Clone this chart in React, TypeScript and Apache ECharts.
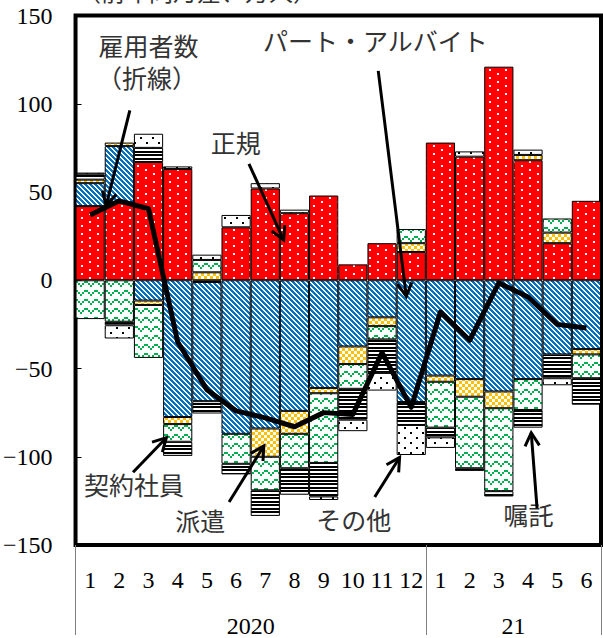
import { useEffect, useRef } from "react";
import * as echarts from "echarts";

// Month labels (2020 Jan–Dec, 2021 Jan–Jun) and the year row beneath them
const months = ["1", "2", "3", "4", "5", "6", "7", "8", "9", "10", "11", "12", "1", "2", "3", "4", "5", "6"];
const yearLabels = ["2020", "21"];
const yearCenters = [6, 15];
const yearDividers = [0, 12, 18];

// Year-on-year change by employment type (10 thousand persons)
const regular = [42, 44, 67, 63, -1, 30, 52, 38, 48, 9, 21, 16, 78, 70, 121, 68, 21, 45];
const partTime = [13, 32, -11.5, -77.5, -67.5, -87, -84, -74, -61, -37.5, -21, -69, -54, -56, -63, -56, -42, -39];
const dispatched = [2, 2, -2.5, -4, 4.5, 0, -16, -13, -3, -10, -5, 5, -3.5, -10, -9.5, 3, 6, -3];
const contract = [-22, -23.5, -30, -10, 7, -17, -19, -19.5, -39.5, -14, -7.5, 8, -26, -40.5, -47, -17.5, 8, -13.5];
const shokutaku = [3, -2, 8, -8, -7, -6, -14.5, -15, -19, -17.5, -19, -13, -5.5, -1.5, -3, -10, -13.5, -15];
const others = [1, -7.5, 8, 1.5, 3, 7, 3, 2, -2, -6.5, -10, -17, -6, 3, 0, 3, -4, 0];
// Total employees (line)
const employees = [37, 45, 40.5, -35, -62, -74, -78, -83, -75, -76, -41, -72, -18, -34, -1.5, -9.5, -25, -27];

// Y axis
const yMin = -150;
const yMax = 150;
const yStep = 50;

// Call-out labels, placed in axis units (x: 0..18 across the months, y: value)
type Callout = {
  lines: { text: string; x: number; y: number }[];
  from: [number, number];
  to: [number, number];
};
const callouts: Callout[] = [
  {
    lines: [
      { text: "雇用者数", x: 2.5, y: 133.5 },
      { text: "（折線）", x: 2.45, y: 115 },
    ],
    from: [1.86, 96.3],
    to: [1.05, 42.4],
  },
  { lines: [{ text: "正規", x: 5.49, y: 78.6 }], from: [5.94, 66], to: [7.13, 22.8] },
  { lines: [{ text: "パート・アルバイト", x: 10.27, y: 136.4 }], from: [10.37, 118.6], to: [11.33, -9.1] },
  { lines: [{ text: "契約社員", x: 2.0, y: -115.3 }], from: [1.97, -108.8], to: [3.11, -89.2] },
  { lines: [{ text: "派遣", x: 4.27, y: -135.8 }], from: [5.26, -125.6], to: [6.45, -93.9] },
  { lines: [{ text: "その他", x: 9.53, y: -135.5 }], from: [10.25, -122.8], to: [11.1, -100.4] },
  { lines: [{ text: "嘱託", x: 15.52, y: -132.6 }], from: [15.81, -129.3], to: [15.61, -86.4] },
];

const SERIF = "Liberation Serif";
const CJK = "'Noto Sans CJK JP', sans-serif";

type Tile = { image: HTMLCanvasElement; repeat: "repeat"; imageWidth: number; imageHeight: number };

function makeTile(w: number, h: number, draw: (ctx: CanvasRenderingContext2D) => void): Tile {
  const c = document.createElement("canvas");
  c.width = w;
  c.height = h;
  const ctx = c.getContext("2d")!;
  draw(ctx);
  return { image: c, repeat: "repeat", imageWidth: w, imageHeight: h };
}

function buildPatterns() {
  // red with staggered white dots
  const red = makeTile(16, 8, (ctx) => {
    ctx.fillStyle = "#ff0000";
    ctx.fillRect(0, 0, 16, 8);
    ctx.fillStyle = "#ffffff";
    ctx.fillRect(1, 1, 2, 2);
    ctx.fillRect(9, 5, 2, 2);
  });
  // blue diagonal stripes (top-left to bottom-right)
  const blue = makeTile(5, 5, (ctx) => {
    ctx.fillStyle = "#ffffff";
    ctx.fillRect(0, 0, 5, 5);
    ctx.fillStyle = "#0070c0";
    for (let y = 0; y < 5; y++) {
      for (let x = 0; x < 5; x++) {
        if ((((x - y) % 5) + 5) % 5 < 3) ctx.fillRect(x, y, 1, 1);
      }
    }
  });
  // orange checkerboard
  const orange = makeTile(6, 6, (ctx) => {
    ctx.fillStyle = "#ffffff";
    ctx.fillRect(0, 0, 6, 6);
    ctx.fillStyle = "#ffc000";
    ctx.fillRect(0, 0, 3, 3);
    ctx.fillRect(3, 3, 3, 3);
  });
  // green dashed zigzag
  const green = makeTile(10, 9, (ctx) => {
    ctx.fillStyle = "#ffffff";
    ctx.fillRect(0, 0, 10, 9);
    ctx.fillStyle = "#00b050";
    const pts = [
      [0, 6],
      [2, 4],
      [4, 2],
      [6, 2],
      [8, 4],
    ];
    pts.forEach(([x, y]) => ctx.fillRect(x, y, 2, 2));
  });
  // black horizontal stripes
  const stripes = makeTile(4, 7, (ctx) => {
    ctx.fillStyle = "#ffffff";
    ctx.fillRect(0, 0, 4, 7);
    ctx.fillStyle = "#000000";
    ctx.fillRect(0, 0, 4, 2);
    ctx.fillRect(0, 4, 4, 2);
  });
  // sparse black dots on white
  const dots = makeTile(12, 10, (ctx) => {
    ctx.fillStyle = "#ffffff";
    ctx.fillRect(0, 0, 12, 10);
    ctx.fillStyle = "#000000";
    ctx.fillRect(2, 2, 2, 2);
    ctx.fillRect(8, 7, 2, 2);
  });
  return [red, blue, orange, green, stripes, dots];
}

const stackData = [regular, partTime, dispatched, contract, shokutaku, others];
const stackNames = ["正規", "パート・アルバイト", "派遣", "契約社員", "嘱託", "その他"];

const axisText = { fontSize: 24, fontFamily: SERIF, color: "#000" };

export default function App() {
  const ref = useRef<HTMLDivElement>(null);

  useEffect(() => {
    if (!ref.current) return;
    const chart = echarts.init(ref.current, null, { renderer: "svg" });
    const patterns = buildPatterns();

    const barSeries = stackData.map((vals, i) => ({
      name: stackNames[i],
      type: "bar",
      stack: "total",
      xAxisIndex: 0,
      yAxisIndex: 0,
      barCategoryGap: "0%",
      data: vals.map((v) => (v === 0 ? "-" : v)),
      itemStyle: {
        color: patterns[i],
        borderColor: "#000",
        borderWidth: 1,
      },
      emphasis: { disabled: true },
    }));

    chart.setOption({
      animation: false,
      grid: {
        left: 72,
        right: 2,
        top: 15.5,
        bottom: 86,
        show: true,
        borderColor: "#000",
        borderWidth: 4,
        backgroundColor: "transparent",
      },
      xAxis: [
        {
          type: "category",
          data: months,
          position: "bottom",
          axisLine: { show: false },
          axisTick: { show: false },
          axisLabel: { interval: 0, margin: 23, ...axisText },
        },
        {
          type: "value",
          min: 0,
          max: 18,
          position: "bottom",
          axisLine: { show: false },
          splitLine: { show: false },
          axisTick: {
            show: true,
            customValues: yearDividers,
            length: 90,
            lineStyle: { color: "#808080", width: 1 },
          },
          axisLabel: {
            customValues: yearCenters,
            margin: 69,
            ...axisText,
            formatter: (v: number) => yearLabels[yearCenters.indexOf(v)] ?? "",
          },
        },
      ],
      yAxis: {
        type: "value",
        min: yMin,
        max: yMax,
        interval: yStep,
        axisLine: { show: false },
        splitLine: { show: false },
        axisTick: { show: true, inside: true, length: 6, lineStyle: { color: "#000" } },
        axisLabel: {
          margin: 23,
          ...axisText,
          formatter: (v: number) => (v < 0 ? "\u2212" + -v : String(v)),
        },
      },
      series: [
        ...barSeries,
        {
          name: "雇用者数",
          type: "line",
          xAxisIndex: 0,
          yAxisIndex: 0,
          data: employees,
          symbol: "none",
          z: 10,
          lineStyle: { color: "#000", width: 5, join: "round" },
          emphasis: { disabled: true },
        },
      ],
    });

    // Call-outs: text labels with open-headed arrows
    const px = (x: number) => chart.convertToPixel({ xAxisIndex: 1 }, x) as number;
    const py = (y: number) => chart.convertToPixel({ yAxisIndex: 0 }, y) as number;
    const graphics: any[] = [
      {
        type: "text",
        x: 77,
        y: 2,
        z: 100,
        style: {
          text: "（前年同月差、万人）",
          font: `24px ${CJK}`,
          fill: "#333",
          textVerticalAlign: "bottom",
        },
      },
    ];
    callouts.forEach((c) => {
      c.lines.forEach((l) => {
        graphics.push({
          type: "text",
          x: px(l.x),
          y: py(l.y),
          z: 100,
          style: {
            text: l.text,
            font: `25px ${CJK}`,
            fill: "#333",
            textAlign: "center",
            textVerticalAlign: "middle",
          },
        });
      });
      const x1 = px(c.from[0]);
      const y1 = py(c.from[1]);
      const x2 = px(c.to[0]);
      const y2 = py(c.to[1]);
      const ang = Math.atan2(y2 - y1, x2 - x1);
      const len = 15;
      const spread = 0.5;
      const wa: [number, number] = [x2 - len * Math.cos(ang - spread), y2 - len * Math.sin(ang - spread)];
      const wb: [number, number] = [x2 - len * Math.cos(ang + spread), y2 - len * Math.sin(ang + spread)];
      graphics.push({
        type: "line",
        z: 100,
        shape: { x1, y1, x2, y2 },
        style: { stroke: "#000", lineWidth: 3 },
      });
      graphics.push({
        type: "polyline",
        z: 100,
        shape: { points: [wa, [x2, y2], wb] },
        style: { stroke: "#000", lineWidth: 3, fill: null },
      });
    });
    chart.setOption({ graphic: graphics });

    return () => chart.dispose();
  }, []);

  return (
    <div
      ref={ref}
      style={{ position: "absolute", left: 0, top: 0, width: 603, height: 638, background: "#fff" }}
    />
  );
}
